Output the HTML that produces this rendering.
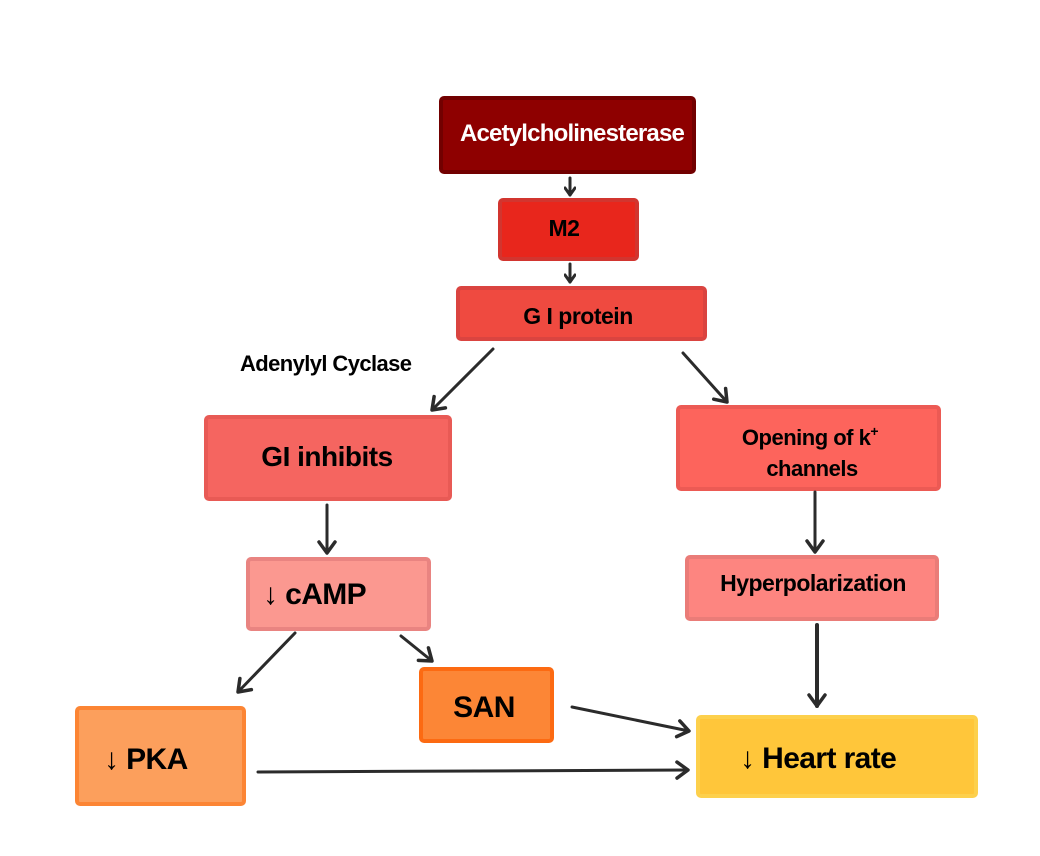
<!DOCTYPE html>
<html><head><meta charset="utf-8"><style>
html,body{margin:0;padding:0;background:#fff;}
svg{display:block;font-family:"Liberation Sans",Arial,sans-serif;font-weight:bold;}
</style></head><body>
<svg width="1040" height="856" viewBox="0 0 1040 856" xmlns="http://www.w3.org/2000/svg">
<defs>
<marker id="a" markerWidth="12" markerHeight="12" refX="9" refY="6" orient="auto" markerUnits="userSpaceOnUse">
<polyline points="2,1 9,6 2,11" fill="none" stroke="#2b2b2b" stroke-width="3" stroke-linecap="round" stroke-linejoin="round"/>
</marker>
<marker id="b" markerWidth="18" markerHeight="20" refX="14" refY="10" orient="auto" markerUnits="userSpaceOnUse">
<polyline points="3,2 14,10 3,18" fill="none" stroke="#2b2b2b" stroke-width="3.5" stroke-linecap="round" stroke-linejoin="round"/>
</marker>
</defs>
<g stroke-width="4">
<rect x="441" y="98" width="253" height="74" rx="3" fill="#8e0000" stroke="#720000"/>
<rect x="500" y="200" width="137" height="59" rx="3" fill="#e8261c" stroke="#d2352f"/>
<rect x="458" y="288" width="247" height="51" rx="3" fill="#ef4a40" stroke="#da4440"/>
<rect x="206" y="417" width="244" height="82" rx="3" fill="#f56560" stroke="#e85a55"/>
<rect x="678" y="407" width="261" height="82" rx="3" fill="#fd645c" stroke="#ec5a54"/>
<rect x="248" y="559" width="181" height="70" rx="3" fill="#fb9890" stroke="#e98481"/>
<rect x="687" y="557" width="250" height="62" rx="3" fill="#fd8580" stroke="#ea7c78"/>
<rect x="77" y="708" width="167" height="96" rx="3" fill="#fc9f5c" stroke="#fc8534"/>
<rect x="421" y="669" width="131" height="72" rx="3" fill="#fc8636" stroke="#fc6a12"/>
<rect x="698" y="717" width="278" height="79" rx="3" fill="#ffc63a" stroke="#fdd04c"/>
</g>
<g stroke="#2b2b2b" stroke-width="3" fill="none" stroke-linecap="round">
<line x1="570" y1="178" x2="570" y2="195" marker-end="url(#a)"/>
<line x1="570" y1="264" x2="570" y2="282" marker-end="url(#a)"/>
<line x1="493" y1="349" x2="432" y2="410" marker-end="url(#b)"/>
<line x1="683" y1="353" x2="727" y2="402" marker-end="url(#b)"/>
<line x1="327" y1="505" x2="327" y2="553" marker-end="url(#b)"/>
<line x1="295" y1="633" x2="238" y2="692" marker-end="url(#b)"/>
<line x1="401" y1="636" x2="432" y2="661" marker-end="url(#b)"/>
<line x1="815" y1="492" x2="815" y2="552" marker-end="url(#b)"/>
<line x1="817" y1="625" x2="817" y2="706" stroke-width="4" marker-end="url(#b)"/>
<line x1="572" y1="707" x2="689" y2="731" marker-end="url(#b)"/>
<line x1="258" y1="772" x2="688" y2="770" marker-end="url(#b)"/>
</g>
<g text-anchor="middle" fill="#000">
<text x="572" y="141" font-size="24" fill="#fff" letter-spacing="-0.8">Acetylcholinesterase</text>
<text x="564" y="236" font-size="23" letter-spacing="-0.5">M2</text>
<text x="578" y="324" font-size="23" letter-spacing="-0.5">G I protein</text>
<text x="327" y="466" font-size="28" letter-spacing="-0.5">GI inhibits</text>
<text x="810" y="445" font-size="22" letter-spacing="-0.5">Opening of k<tspan font-size="14" dy="-9">+</tspan></text>
<text x="812" y="476" font-size="22" letter-spacing="-0.5">channels</text>
<text x="813" y="591" font-size="23" letter-spacing="-0.5">Hyperpolarization</text>
<text x="484" y="717" font-size="30" letter-spacing="-0.5">SAN</text>
</g>
<g fill="#000">
<text x="240" y="371" font-size="22" letter-spacing="-0.6">Adenylyl Cyclase</text>
<text x="263" y="604" font-size="30" letter-spacing="-0.6"><tspan font-weight="normal">↓</tspan> cAMP</text>
<text x="104" y="769" font-size="30" letter-spacing="-0.6"><tspan font-weight="normal">↓</tspan> PKA</text>
<text x="740" y="768" font-size="30" letter-spacing="-0.6"><tspan font-weight="normal">↓</tspan> Heart rate</text>
</g>
</svg>
</body></html>
